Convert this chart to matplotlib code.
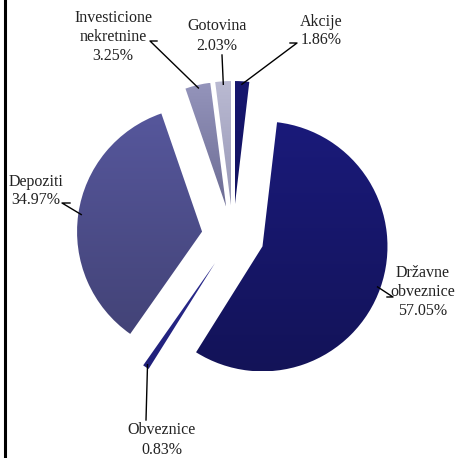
import matplotlib.pyplot as plt
import numpy as np
from matplotlib.colors import LinearSegmentedColormap
from matplotlib.lines import Line2D

# data
names = ['Akcije', 'Državne\nobveznice', 'Obveznice', 'Depoziti',
         'Investicione\nnekretnine', 'Gotovina']
shares = [1.86, 57.05, 0.83, 34.97, 3.25, 2.03]
explode = [0.24, 0.25, 0.26, 0.25, 0.24, 0.24]
# gradient top -> bottom for each slice
top_cols = ['#17176f', '#1a1a7a', '#2a2a8e', '#56579c', '#9494bb', '#babad2']
bot_cols = ['#121260', '#131358', '#20207a', '#434377', '#6c6c94', '#9797b6']

# label placement (pixel space, y measured from top) and leader elbows
label_xy = [(321, 31), (423, 292), (162, 440), (36, 191), (113, 37), (217, 36)]
elbow = [[(297, 43), (290, 43)], [(393, 297), (387, 297)], [(146, 420)],
         [(62, 203), (70, 203)], [(150, 41), (157, 41)], [(222, 55)]]

W, H = 457, 458
fig = plt.figure(figsize=(W / 100, H / 100), dpi=100)
ax = fig.add_axes([0, 0, 1, 1])

cx, cy, R = 233, H - 236, 125
# matplotlib's explode is in data units, so scale by the radius
wedges, _ = ax.pie(shares, explode=[e * R for e in explode], radius=R,
                   center=(cx, cy), startangle=90, counterclock=False,
                   frame=True, wedgeprops=dict(linewidth=0))
ax.set_xlim(0, W)
ax.set_ylim(0, H)
ax.set_aspect('equal')
ax.axis('off')

for w, c1, c2 in zip(wedges, top_cols, bot_cols):
    w.set_facecolor('none')
    bb = w.get_path().get_extents(w.get_transform() - ax.transData)
    cmap = LinearSegmentedColormap.from_list('g', [c2, c1])
    grad = np.linspace(0, 1, 256).reshape(-1, 1)
    im = ax.imshow(grad, cmap=cmap, origin='lower', aspect='auto',
                   extent=[bb.x0, bb.x1, bb.y0, bb.y1], zorder=1)
    im.set_clip_path(w)

# labels with leader lines
font = ['Liberation Serif', 'DejaVu Serif']
for i, w in enumerate(wedges):
    ang = np.deg2rad((w.theta1 + w.theta2) / 2)
    r = R * (1 + explode[i]) - 3
    px, py = cx + r * np.cos(ang), cy + r * np.sin(ang)
    pts = [(px, py)] + [(x, H - y) for x, y in elbow[i]]
    xs, ys = zip(*pts)
    ax.add_line(Line2D(xs, ys, color='black', lw=1, zorder=3))
    lx, ly = label_xy[i]
    ax.text(lx, H - ly, names[i] + '\n' + f'{shares[i]:.2f}%', ha='center',
            va='center', fontsize=11.5, family=font, linespacing=1.25,
            color='#222222', zorder=4)

# left border line
fig.add_artist(Line2D([5 / W, 5 / W], [0, 1], color='black', lw=2.2,
                      transform=fig.transFigure))

fig.savefig('out.png', dpi=100)
